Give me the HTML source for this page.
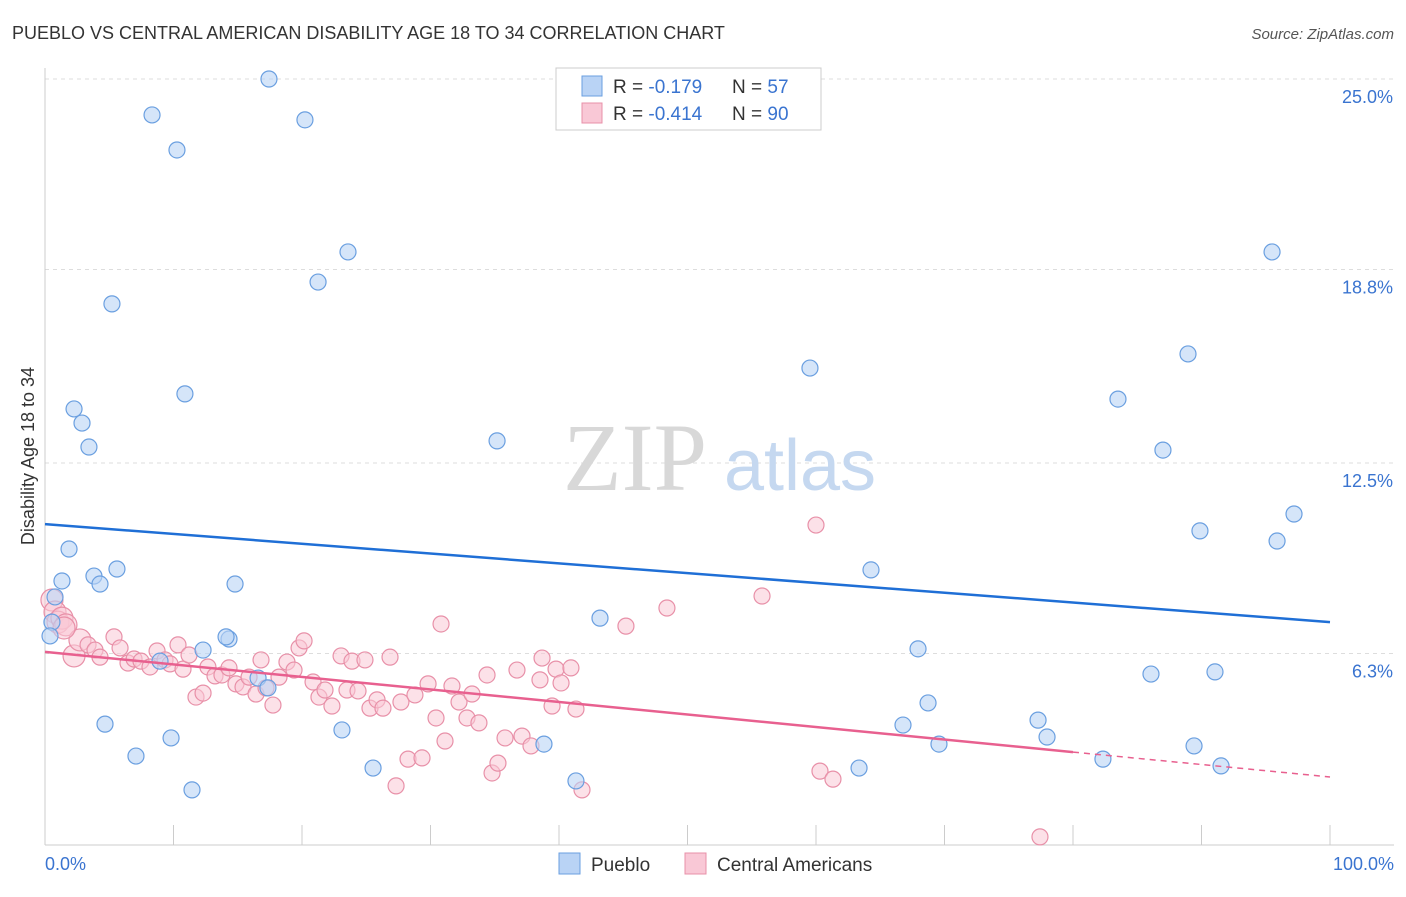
<!DOCTYPE html>
<html><head><meta charset="utf-8">
<style>
body{margin:0;background:#fff;font-family:"Liberation Sans",sans-serif;}
svg text{font-family:"Liberation Sans",sans-serif;}
</style></head>
<body>
<svg id="chart" width="1406" height="892" xmlns="http://www.w3.org/2000/svg">
<text x="12" y="39" font-size="18" fill="#333">PUEBLO VS CENTRAL AMERICAN DISABILITY AGE 18 TO 34 CORRELATION CHART</text>
<text x="1394" y="39" font-size="15" fill="#555" font-style="italic" text-anchor="end">Source: ZipAtlas.com</text>
<g id="grid"></g>
<g>
<text x="635" y="490" font-size="96" fill="#d8d8d8" style="font-family:'Liberation Serif',serif" text-anchor="middle">ZIP</text>
<text x="800" y="490" font-size="72" fill="#c5d8f0" text-anchor="middle">atlas</text>
</g>
<line x1="45" y1="68" x2="45" y2="845" stroke="#ccc"/>
<line x1="45" y1="845" x2="1394" y2="845" stroke="#ccc"/>
<g id="xticks"></g>
<g id="yticks"></g>
<text x="34" y="456" font-size="18" fill="#333" text-anchor="middle" transform="rotate(-90 34 456)">Disability Age 18 to 34</text>
<text x="45" y="870" font-size="18" fill="#3a74d0">0.0%</text>
<text x="1394" y="870" font-size="18" fill="#3a74d0" text-anchor="end">100.0%</text>
<g id="pinkpts"></g>
<g id="bluepts"></g>
<g id="lines"></g>
<g>
<rect x="556" y="68" width="265" height="62" fill="#fff" stroke="#ccc"/>
<rect x="582" y="76" width="20" height="20" fill="#b9d3f5" stroke="#6a9fe0"/>
<rect x="582" y="103" width="20" height="20" fill="#f9c8d6" stroke="#e890a8"/>
<text x="613" y="93" font-size="19" fill="#333">R = <tspan fill="#3a74d0">-0.179</tspan><tspan x="732">N = </tspan><tspan fill="#3a74d0">57</tspan></text>
<text x="613" y="120" font-size="19" fill="#333">R = <tspan fill="#3a74d0">-0.414</tspan><tspan x="732">N = </tspan><tspan fill="#3a74d0">90</tspan></text>
</g>
<g>
<rect x="559" y="853" width="21" height="21" fill="#b9d3f5" stroke="#6a9fe0"/>
<text x="591" y="871" font-size="19" fill="#333">Pueblo</text>
<rect x="685" y="853" width="21" height="21" fill="#f9c8d6" stroke="#e890a8"/>
<text x="717" y="871" font-size="19" fill="#333">Central Americans</text>
</g>
</svg>
<script>
const yTicks=[6.3,12.5,18.8,25.0];
const yTickLabels=["6.3%","12.5%","18.8%","25.0%"];
const xTicks=[0,10,20,30,40,50,60,70,80,90,100];
const bluePx=[[269,79],[152,115],[305,120],[177,150],[348,252],[318,282],[112,304],[185,394],[74,409],[82,423],[89,447],[497,441],[69,549],[62,581],[94,576],[100,584],[117,569],[235,584],[55,597],[52,622],[50,636],[229,639],[226,637],[203,650],[160,661],[258,678],[268,688],[105,724],[171,738],[136,756],[192,790],[342,730],[373,768],[544,744],[576,781],[600,618],[810,368],[871,570],[918,649],[928,703],[903,725],[939,744],[859,768],[1038,720],[1047,737],[1103,759],[1118,399],[1163,450],[1188,354],[1200,531],[1272,252],[1294,514],[1277,541],[1151,674],[1215,672],[1194,746],[1221,766]];
const pinkPx=[[52,600],[55,612],[58,622],[62,618],[66,625],[74,656],[80,640],[88,645],[95,650],[100,657],[114,637],[120,648],[128,663],[134,659],[141,661],[150,667],[157,651],[165,660],[170,664],[178,645],[183,669],[189,655],[196,697],[203,693],[208,667],[215,676],[222,675],[229,668],[236,684],[243,687],[249,677],[256,694],[261,660],[266,688],[273,705],[279,677],[287,662],[294,670],[299,648],[304,641],[313,682],[319,697],[325,690],[332,706],[341,656],[347,690],[352,661],[358,691],[365,660],[370,708],[377,700],[383,708],[390,657],[396,786],[401,702],[408,759],[415,695],[422,758],[428,684],[436,718],[441,624],[445,741],[452,686],[459,702],[467,718],[472,694],[479,723],[487,675],[492,773],[498,763],[505,738],[517,670],[522,736],[531,746],[540,680],[542,658],[552,706],[556,669],[561,683],[571,668],[576,709],[582,790],[626,626],[667,608],[762,596],[816,525],[820,771],[833,779],[1040,837],[64,628]];
const blueX=bluePx.map(p=>+((p[0]-45)/12.85).toFixed(2));
const blueY=bluePx.map(p=>+((847-p[1])/30.72).toFixed(2));
const pinkX=pinkPx.map(p=>+((p[0]-45)/12.85).toFixed(2));
const pinkY=pinkPx.map(p=>+((847-p[1])/30.72).toFixed(2));
const blueTrend=[10.51,7.32];
const pinkTrend=[6.35,3.09,2.28];
const NS="http://www.w3.org/2000/svg";
const sx=v=>45+v*12.85;
const sy=v=>847-v*30.72;
function mk(tag,attrs,parent){const e=document.createElementNS(NS,tag);for(const k in attrs)e.setAttribute(k,attrs[k]);document.getElementById(parent).appendChild(e);return e;}
yTicks.forEach((t,i)=>{
 const g=mk('line',{x1:45,x2:1394,y1:sy(t),y2:sy(t),stroke:'#ddd','stroke-dasharray':'4 4'},'grid');
 
 
 const l=mk('text',{x:1393,y:sy(t)+24,'font-size':18,fill:'#3a74d0','text-anchor':'end'},'yticks');
 l.textContent=yTickLabels[i];
 
 
});
const gl=mk('line',{x1:45,x2:1394,y1:79,y2:79,stroke:'#ddd','stroke-dasharray':'4 4'},'grid');
xTicks.forEach(t=>{
 const e=mk('line',{x1:sx(t),x2:sx(t),y1:825,y2:845,stroke:'#ccc'},'xticks');
 
 
});
pinkX.forEach((x,i)=>{
 const r=x<3?11:8;
 const c=mk('circle',{cx:sx(x),cy:sy(pinkY[i]),r:r,fill:'#f9c8d6','fill-opacity':0.55,stroke:'#e890a8','stroke-width':1.2},'pinkpts');
 
 
});
blueX.forEach((x,i)=>{
 const c=mk('circle',{cx:sx(x),cy:sy(blueY[i]),r:8,fill:'#b9d3f5','fill-opacity':0.6,stroke:'#6a9fe0','stroke-width':1.2},'bluepts');
 
 
});
const bl=mk('line',{x1:sx(0),y1:sy(blueTrend[0]),x2:sx(100),y2:sy(blueTrend[1]),stroke:'#1f6fd6','stroke-width':2.5},'lines');


const pl=mk('line',{x1:sx(0),y1:sy(pinkTrend[0]),x2:sx(80),y2:sy(pinkTrend[1]),stroke:'#e8608f','stroke-width':2.5},'lines');


const pd=mk('line',{x1:sx(80),y1:sy(pinkTrend[1]),x2:sx(100),y2:sy(pinkTrend[2]),stroke:'#e8608f','stroke-width':1.5,'stroke-dasharray':'6 5'},'lines');


</script>
</body></html>
